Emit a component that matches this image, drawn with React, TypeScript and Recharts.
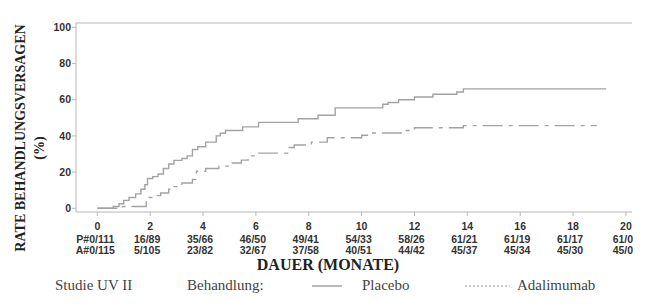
import { LineChart, Line, XAxis, YAxis, ReferenceLine } from "recharts";

// Kaplan-Meier step points (months, % failure)
const placebo = [
  { t: 0, v: 0 }, { t: 0.6, v: 1 }, { t: 0.82, v: 2.5 }, { t: 1.0, v: 4.4 },
  { t: 1.2, v: 6 }, { t: 1.45, v: 8 }, { t: 1.65, v: 10.5 }, { t: 1.8, v: 13 },
  { t: 1.9, v: 16.5 }, { t: 2.1, v: 17.5 }, { t: 2.3, v: 19 }, { t: 2.5, v: 22 },
  { t: 2.7, v: 24.5 }, { t: 2.9, v: 26.5 }, { t: 3.2, v: 27.5 }, { t: 3.4, v: 29 },
  { t: 3.6, v: 32.5 }, { t: 3.8, v: 34 }, { t: 4.1, v: 36.6 }, { t: 4.5, v: 40 },
  { t: 4.65, v: 41.5 }, { t: 4.85, v: 43 }, { t: 5.5, v: 45 }, { t: 6.1, v: 47.5 },
  { t: 7.6, v: 49.5 }, { t: 8.35, v: 51.4 }, { t: 9.0, v: 55.5 }, { t: 10.8, v: 57.5 },
  { t: 11.0, v: 58.5 }, { t: 11.4, v: 60 }, { t: 12.0, v: 61.5 }, { t: 12.7, v: 63 },
  { t: 13.6, v: 64.3 }, { t: 13.85, v: 66 }, { t: 19.25, v: 66 },
];

const adalimumab = [
  { t: 0, v: 0 }, { t: 0.95, v: 1 }, { t: 1.85, v: 3.5 }, { t: 1.95, v: 6 },
  { t: 2.15, v: 7 }, { t: 2.4, v: 8.5 }, { t: 2.7, v: 10.5 }, { t: 2.9, v: 12 },
  { t: 3.2, v: 14 }, { t: 3.6, v: 16 }, { t: 3.75, v: 20.5 }, { t: 4.1, v: 22 },
  { t: 4.6, v: 23.3 }, { t: 5.1, v: 25 }, { t: 5.45, v: 26.6 }, { t: 5.7, v: 29 },
  { t: 6.0, v: 30.5 }, { t: 7.2, v: 33.6 }, { t: 7.45, v: 35 }, { t: 8.1, v: 36.6 },
  { t: 8.7, v: 39 }, { t: 10.0, v: 40.4 }, { t: 10.3, v: 41.6 }, { t: 11.5, v: 43 },
  { t: 12.0, v: 44.5 }, { t: 13.85, v: 45.7 }, { t: 18.9, v: 45.7 },
];

const xTicks = [0, 2, 4, 6, 8, 10, 12, 14, 16, 18, 20];
const yTicks = [0, 20, 40, 60, 80, 100];
const riskPlacebo = ["P#0/111", "16/89", "35/66", "46/50", "49/41", "54/33", "58/26", "61/21", "61/19", "61/17", "61/0"];
const riskAda = ["A#0/115", "5/105", "23/82", "32/67", "37/58", "40/51", "44/42", "45/37", "45/34", "45/30", "45/0"];

const LINE = "#a3a3a3";
const AXIS = "#b8b8b8";
const TXT = "#333";
const sans = "'Liberation Sans', Arial, sans-serif";
const serif = "'Liberation Serif', 'Times New Roman', serif";

function RiskTick(props: any) {
  const { x, y, payload } = props;
  const i = xTicks.indexOf(payload.value);
  const common = { textAnchor: "middle" as const, fontFamily: sans, fontSize: 10.5, fontWeight: 700, fill: TXT };
  return (
    <g>
      <text x={x} y={y + 12} {...common}>{payload.value}</text>
      <text x={x - (i === 0 ? 2 : 3)} y={y + 24.5} {...common}>{riskPlacebo[i]}</text>
      <text x={x - (i === 0 ? 2 : 3)} y={y + 36} {...common}>{riskAda[i]}</text>
    </g>
  );
}

export default function App() {
  return (
    <div style={{ position: "absolute", left: 0, top: 0, width: 660, height: 306, background: "#fff" }}>
      <LineChart width={660} height={306} margin={{ top: 23, right: 28, bottom: 64, left: 0 }}>
        <XAxis
          type="number"
          dataKey="t"
          domain={[-0.806, 20.23]}
          allowDataOverflow
          ticks={xTicks}
          interval={0}
          tickSize={4}
          height={30}
          axisLine={{ stroke: AXIS }}
          tickLine={{ stroke: AXIS }}
          tick={<RiskTick />}
        />
        <YAxis
          type="number"
          domain={[-2.04, 102.4]}
          allowDataOverflow
          ticks={yTicks}
          interval={0}
          width={76}
          tickSize={4}
          tickMargin={1}
          axisLine={{ stroke: AXIS }}
          tickLine={{ stroke: AXIS }}
          tick={{ fontFamily: sans, fontSize: 10.5, fontWeight: 700, fill: TXT }}
        />
        <ReferenceLine y={102.4} stroke={AXIS} />
        <Line
          data={placebo}
          dataKey="v"
          type="stepAfter"
          stroke={LINE}
          strokeWidth={1.4}
          dot={false}
          isAnimationActive={false}
        />
        <Line
          data={adalimumab}
          dataKey="v"
          type="stepAfter"
          stroke={LINE}
          strokeWidth={1.4}
          strokeDasharray="20 6 4 6"
          dot={false}
          isAnimationActive={false}
        />
      </LineChart>
      <svg width={660} height={306} style={{ position: "absolute", left: 0, top: 0, pointerEvents: "none" }}>
        <text
          transform="translate(25,138) rotate(-90)"
          textAnchor="middle"
          fontFamily={serif}
          fontWeight={700}
          fontSize={14}
          fill="#222"
        >
          RATE BEHANDLUNGSVERSAGEN
        </text>
        <text
          transform="translate(44,148) rotate(-90)"
          textAnchor="middle"
          fontFamily={serif}
          fontWeight={700}
          fontSize={14}
          fill="#222"
        >
          (%)
        </text>
        <text x={328} y={270} textAnchor="middle" fontFamily={serif} fontWeight={700} fontSize={16} fill="#222">
          DAUER (MONATE)
        </text>
        <text x={55} y={290} fontFamily={serif} fontSize={15} fill="#444">Studie UV II</text>
        <text x={187} y={290} fontFamily={serif} fontSize={15} fill="#444">Behandlung:</text>
        <line x1={312} x2={342} y1={286} y2={286} stroke={LINE} strokeWidth={1.5} />
        <text x={362} y={290} fontFamily={serif} fontSize={15} fill="#444">Placebo</text>
        <line x1={465} x2={510} y1={286} y2={286} stroke="#bbb" strokeWidth={1.5} strokeDasharray="2 2" />
        <text x={517} y={290} fontFamily={serif} fontSize={15} fill="#444">Adalimumab</text>
      </svg>
    </div>
  );
}
